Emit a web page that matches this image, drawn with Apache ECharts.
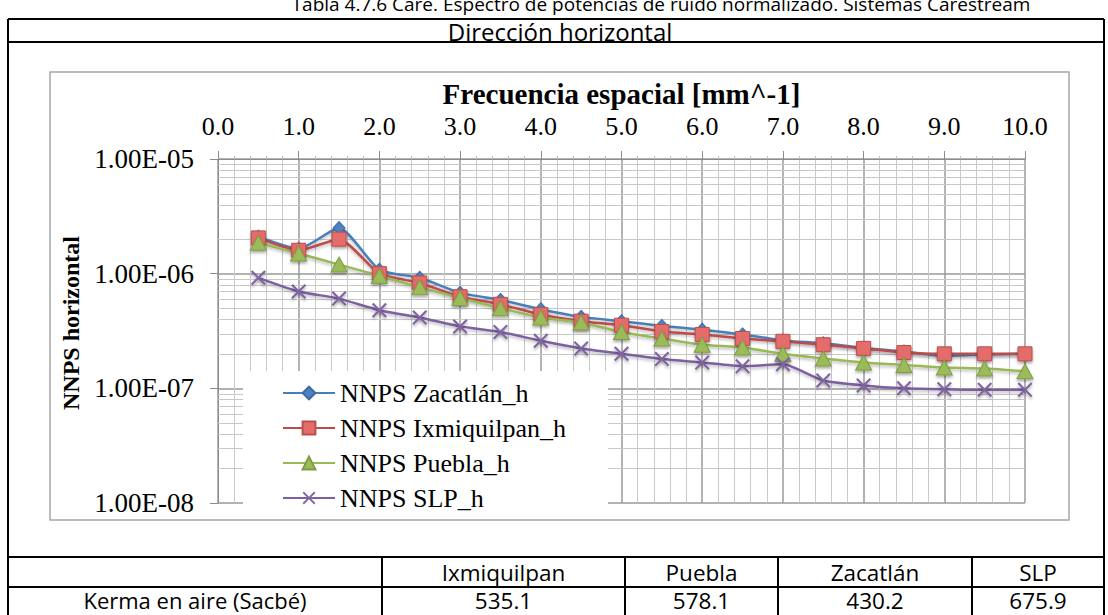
<!DOCTYPE html>
<html><head><meta charset="utf-8">
<script src="https://cdn.jsdelivr.net/npm/echarts@6/dist/echarts.min.js"></script>
<style>html,body{margin:0;padding:0;background:#fff}#c{width:1108px;height:615px}</style>
</head><body><div id="c"></div>
<script>
// ---- text ----
const pageTitle = 'Tabla 4.7.6 Care. Espectro de potencias de ruido normalizado. Sistemas Carestream';
const subTitle = 'Dirección horizontal';
const xAxisTitle = 'Frecuencia espacial [mm^-1]';
const yAxisTitle = 'NNPS horizontal';

// ---- data ----
const freq = [0.5,1.0,1.5,2.0,2.5,3.0,3.5,4.0,4.5,5.0,5.5,6.0,6.5,7.0,7.5,8.0,8.5,9.0,9.5,10.0];
const seriesNames = ['NNPS Zacatlán_h','NNPS Ixmiquilpan_h','NNPS Puebla_h','NNPS SLP_h'];
const zacatlan    = [2.1e-6,1.65e-6,2.5e-6,1.08e-6,9.2e-7,6.8e-7,5.9e-7,4.9e-7,4.2e-7,3.85e-7,3.5e-7,3.25e-7,2.95e-7,2.62e-7,2.47e-7,2.25e-7,2.1e-7,1.92e-7,1.97e-7,2.0e-7];
const ixmiquilpan = [2.05e-6,1.6e-6,2.0e-6,1.0e-6,8.3e-7,6.3e-7,5.4e-7,4.4e-7,3.85e-7,3.55e-7,3.13e-7,2.95e-7,2.72e-7,2.57e-7,2.4e-7,2.23e-7,2.05e-7,2.0e-7,2.0e-7,2.0e-7];
const puebla      = [1.86e-6,1.5e-6,1.2e-6,9.6e-7,7.6e-7,6.15e-7,5.0e-7,4.15e-7,3.75e-7,3.1e-7,2.72e-7,2.4e-7,2.27e-7,2.0e-7,1.82e-7,1.68e-7,1.6e-7,1.52e-7,1.49e-7,1.41e-7];
const slp         = [9.2e-7,7.0e-7,6.06e-7,4.8e-7,4.15e-7,3.47e-7,3.1e-7,2.6e-7,2.23e-7,2.0e-7,1.8e-7,1.68e-7,1.56e-7,1.62e-7,1.17e-7,1.06e-7,1.0e-7,0.98e-7,0.97e-7,0.97e-7];

// ---- axis ticks ----
const xMin = 0, xMax = 10, xStep = 1;
const yMin = 1e-8, yMax = 1e-5;
const yTickLabels = ['1.00E-08','1.00E-07','1.00E-06','1.00E-05'];
const minorMultipliers = [2,3,4,5,6,7,8,9];

// ---- table ----
const tableHeaders = ['Ixmiquilpan','Puebla','Zacatlán','SLP'];
const tableRowLabel = 'Kerma en aire (Sacbé)';
const kermaValues = ['535.1','578.1','430.2','675.9'];

// ---- layout ----
const L = {left:8, right:1104, rTitle:19, rSub:42, rChart:557, rHead:587, rEnd:616,
           cols:[8,382,625,778,972,1104]};
const serif = 'Liberation Serif';
const sans = 'Open Sans';

const seriesData = [zacatlan, ixmiquilpan, puebla, slp];
const minorGrid = [];
for (let e = -8; e < -5; e++) minorMultipliers.forEach(m => minorGrid.push([xMin, m * Math.pow(10, e)]));

const xSym = 'path://M0,1L1,0L5,4L9,0L10,1L6,5L10,9L9,10L5,6L1,10L0,9L4,5Z';
const styles = [
  {color:'#4A7EBB', symbol:'diamond', size:[12,13], fill:'#4F81BD', border:'#3A6BA8'},
  {color:'#BE4B48', symbol:'rect', size:14, fill:'#E46C6A', border:'#B9504E'},
  {color:'#98B954', symbol:'triangle', size:[16,15], fill:'#9BBB59', border:'#7F9C45'},
  {color:'#7D60A0', symbol:xSym, size:15, fill:'#8064A2', border:'#8064A2'}
];

const series = [{
  name:'minorGrid', type:'custom', z:1, silent:true, clip:false,
  encode:{x:0, y:1},
  data:minorGrid,
  renderItem:(params, api) => {
    const cs = params.coordSys;
    const y = Math.round(api.coord([xMin, api.value(1)])[1]) + 0.5;
    return {type:'line', shape:{x1:cs.x, y1:y, x2:cs.x + cs.width, y2:y},
            style:{stroke:'#c8c8c8', lineWidth:1}};
  }
}];
seriesNames.forEach((name, i) => series.push({
  name, type:'line', smooth:0.2, z:3,
  data: freq.map((f, j) => [f, seriesData[i][j]]),
  symbol: styles[i].symbol, symbolSize: styles[i].size,
  lineStyle:{color:styles[i].color, width:2.5, shadowColor:'rgba(0,0,0,0.25)', shadowBlur:3, shadowOffsetY:2},
  itemStyle:{color:styles[i].fill, borderColor:styles[i].border, borderWidth: i===3?0:1,
             shadowColor:'rgba(0,0,0,0.35)', shadowBlur:3, shadowOffsetY:2, opacity:1},
  emphasis:{disabled:true}
}));

const gText = (x, y, text, font, size, weight) => ({
  type:'text', x, y, silent:true,
  style:{text, fontFamily:font, fontSize:size, fontWeight:weight||'normal', fill:'#000', align:'center', verticalAlign:'middle'}
});
const gLine = (x1,y1,x2,y2,color,w) => ({type:'line', silent:true, shape:{x1,y1,x2,y2}, style:{stroke:color, lineWidth:w}});

const graphics = [];
graphics.push({type:'rect', silent:true, shape:{x:50,y:72,width:1019,height:448}, style:{fill:'none', stroke:'#a6a6a6', lineWidth:1.5}, z:-1});
graphics.push(gText(661, 4, pageTitle, sans, 19));
graphics.push(gText(560, 31, subTitle, sans, 24));
[L.rTitle, L.rSub, L.rChart, L.rHead].forEach(y => graphics.push(gLine(L.left, y, L.right, y, '#000', 2)));
graphics.push(gLine(L.left, L.rTitle, L.left, L.rEnd, '#000', 2));
graphics.push(gLine(L.right, L.rTitle, L.right, L.rEnd, '#000', 2));
L.cols.slice(1, -1).forEach(x => graphics.push(gLine(x, L.rChart, x, L.rEnd, '#000', 2)));
const headY = (L.rChart + L.rHead) / 2, dataY = 600;
graphics.push(gText((L.cols[0] + L.cols[1]) / 2, dataY, tableRowLabel, sans, 22));
tableHeaders.forEach((h, i) => {
  const cx = (L.cols[i+1] + L.cols[i+2]) / 2;
  graphics.push(gText(cx, headY, h, sans, 22.5));
  graphics.push(gText(cx, dataY, kermaValues[i], sans, 22.5));
});

const chart = echarts.init(document.getElementById('c'), null, {renderer:'svg'});
chart.setOption({
  animation:false,
  backgroundColor:'#fff',
  grid:{left:218, top:159, width:807, height:344, containLabel:false},
  xAxis:{
    type:'value', position:'top', min:xMin, max:xMax, interval:xStep,
    name:xAxisTitle, nameLocation:'middle', nameGap:51,
    nameTextStyle:{fontFamily:serif, fontWeight:'bold', fontSize:29, color:'#000'},
    axisLine:{show:true, lineStyle:{color:'#8c8c8c', width:1}},
    axisTick:{show:true, inside:false, length:8, lineStyle:{color:'#8c8c8c'}},
    minorTick:{show:true, splitNumber:5, length:3, lineStyle:{color:'#bdbdbd'}},
    axisLabel:{margin:20, fontFamily:serif, fontSize:26, color:'#000', formatter:v => v.toFixed(1)},
    splitLine:{show:true, lineStyle:{color:'#9a9a9a', width:1.5}},
    minorSplitLine:{show:true, lineStyle:{color:'#c8c8c8', width:1}}
  },
  yAxis:{
    type:'log', logBase:10, min:yMin, max:yMax, splitNumber:3,
    name:yAxisTitle, nameLocation:'middle', nameGap:134, nameRotate:90,
    nameTextStyle:{fontFamily:serif, fontWeight:'bold', fontSize:24, color:'#000', padding:[0,0,0,16]},
    axisLine:{show:true, lineStyle:{color:'#8c8c8c', width:1}},
    axisTick:{show:true, inside:false, length:8, lineStyle:{color:'#8c8c8c'}},
    axisLabel:{margin:24, fontFamily:serif, fontSize:27, color:'#000',
      formatter:v => yTickLabels[Math.round(Math.log10(v)) + 8]},
    splitLine:{show:true, z:2, lineStyle:{color:'#9a9a9a', width:1.5}}
  },
  legend:{
    data:seriesNames, orient:'vertical', left:243, top:371, z:5,
    backgroundColor:'#fff', padding:[9,42,8,39], itemWidth:52, itemHeight:16, itemGap:9,
    textStyle:{fontFamily:serif, fontSize:26, color:'#000'},
    selectedMode:false
  },
  series,
  graphic:graphics
});
</script></body></html>
